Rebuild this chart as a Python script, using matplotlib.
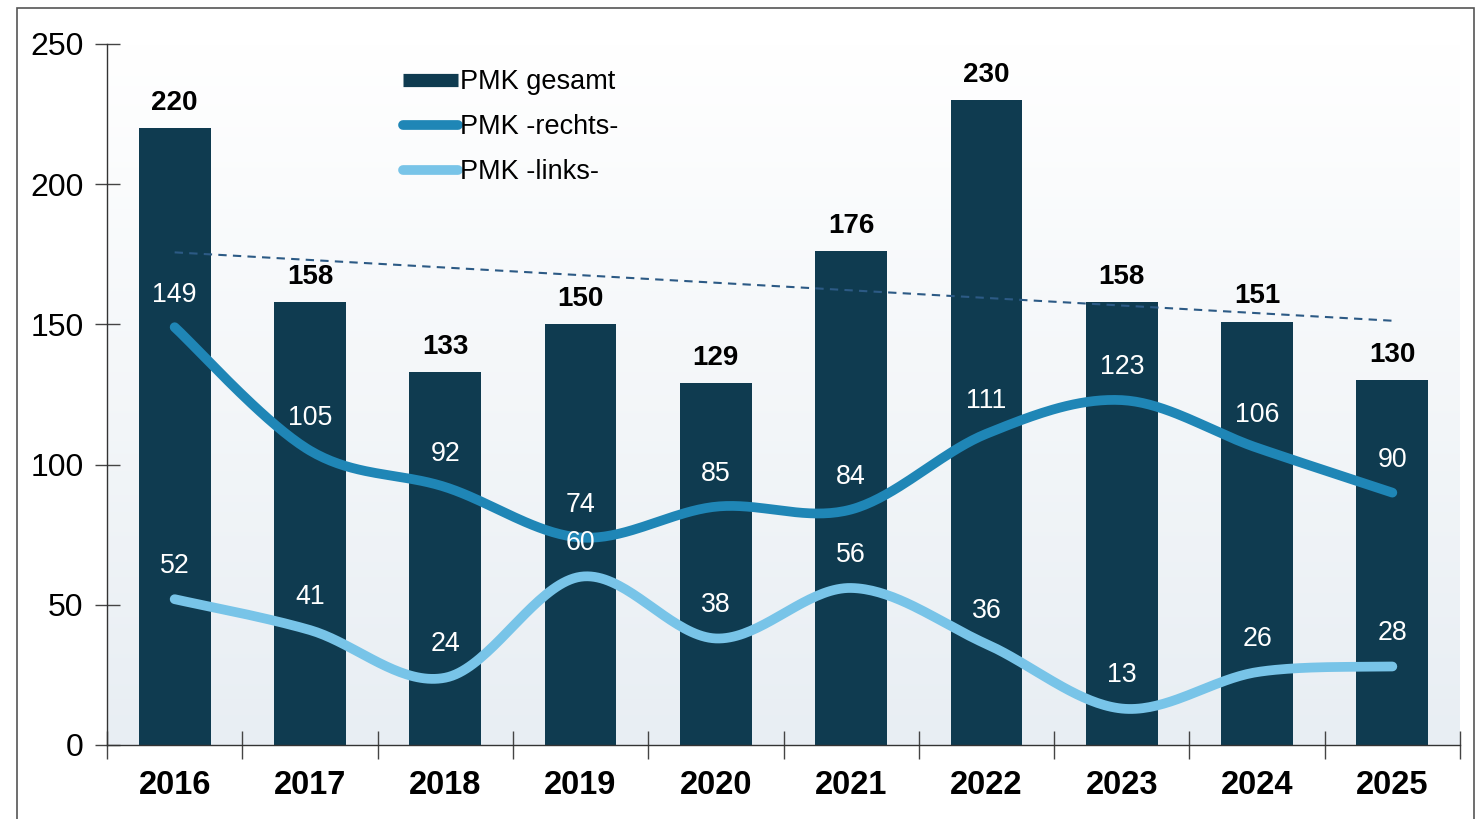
import matplotlib.pyplot as plt
import matplotlib.patches as mpatches
from matplotlib.lines import Line2D
import numpy as np

years = ['2016', '2017', '2018', '2019', '2020', '2021', '2022', '2023', '2024', '2025']
gesamt = [220, 158, 133, 150, 129, 176, 230, 158, 151, 130]
rechts = [149, 105, 92, 74, 85, 84, 111, 123, 106, 90]
links = [52, 41, 24, 60, 38, 56, 36, 13, 26, 28]

c_bar = '#0f3b50'
c_rechts = '#1f86b6'
c_links = '#78c4e8'
c_trend = '#2c5a85'

plt.rcParams['font.family'] = ['Liberation Sans', 'DejaVu Sans']


def smooth(xs, ys, n=40):
    # bezier smoothing like the office charts do
    xs = np.asarray(xs, float)
    ys = np.asarray(ys, float)
    px = np.concatenate([[xs[0]], xs, [xs[-1]]])
    py = np.concatenate([[ys[0]], ys, [ys[-1]]])
    ox, oy = [], []
    t = np.linspace(0, 1, n)
    for i in range(1, len(px) - 2):
        p0 = np.array([px[i - 1], py[i - 1]])
        p1 = np.array([px[i], py[i]])
        p2 = np.array([px[i + 1], py[i + 1]])
        p3 = np.array([px[i + 2], py[i + 2]])
        c1 = p1 + (p2 - p0) / 6
        c2 = p2 - (p3 - p1) / 6
        b = ((1 - t) ** 3)[:, None] * p1 + (3 * (1 - t) ** 2 * t)[:, None] * c1 \
            + (3 * (1 - t) * t ** 2)[:, None] * c2 + (t ** 3)[:, None] * p2
        ox.extend(b[:, 0])
        oy.extend(b[:, 1])
    return np.array(ox), np.array(oy)


fig = plt.figure(figsize=(14.79, 8.19), dpi=100)
ax = fig.add_axes([107 / 1479, 74 / 819, (1460 - 107) / 1479, (745 - 44) / 819])

# frame round the chart
fig.patches.append(mpatches.Rectangle((17 / 1479, -0.05), (1474 - 17) / 1479, 1.05 - 8 / 819,
                                      transform=fig.transFigure, fill=False,
                                      edgecolor='#555555', linewidth=1.2))

x = np.arange(len(years))

# gradient background
grad = np.linspace(0, 1, 256)[:, None]
cols = np.array([1.0, 1.0, 1.0]) * (1 - grad[..., None]) + np.array([0.91, 0.933, 0.953]) * grad[..., None]
ax.imshow(cols, extent=[-0.5, 9.5, 0, 250], aspect='auto', zorder=0, origin='upper')

ax.bar(x, gesamt, width=0.53, color=c_bar, zorder=2)

# trend line
k, d = np.polyfit(x, gesamt, 1)
ax.plot([x[0], x[-1]], [k * x[0] + d, k * x[-1] + d], color=c_trend, linestyle=(0, (4, 3)),
        linewidth=1.5, zorder=3)

sx, sy = smooth(x, rechts)
ax.plot(sx, sy, color=c_rechts, linewidth=7, solid_capstyle='round', zorder=4)
sx, sy = smooth(x, links)
ax.plot(sx, sy, color=c_links, linewidth=7, solid_capstyle='round', zorder=4)

for i in range(len(years)):
    ax.annotate(str(gesamt[i]), (x[i], gesamt[i]), xytext=(0, 18.3), textcoords='offset points',
                ha='center', va='center', fontsize=20, fontweight='bold', color='black', zorder=5)
    ax.annotate(str(rechts[i]), (x[i], rechts[i]), xytext=(0, 23.5), textcoords='offset points',
                ha='center', va='center', fontsize=19.3, color='white', zorder=5)
    ax.annotate(str(links[i]), (x[i], links[i]), xytext=(0, 24), textcoords='offset points',
                ha='center', va='center', fontsize=19.3, color='white', zorder=5)

ax.set_xlim(-0.5, 9.5)
ax.set_ylim(0, 250)
ax.set_yticks([0, 50, 100, 150, 200, 250])
ax.set_xticks(np.arange(-0.5, 10, 1))
ax.set_xticklabels([])
ax.set_xticks(x, minor=True)
ax.set_xticklabels(years, minor=True, fontsize=23.5, fontweight='bold')
ax.tick_params(axis='x', which='minor', length=0, pad=18)
ax.tick_params(axis='x', which='major', direction='inout', length=20, width=1, color='#444444')
ax.tick_params(axis='y', direction='inout', length=18, width=1, color='#444444', labelsize=23, pad=8)
for s in ['top', 'right']:
    ax.spines[s].set_visible(False)
for s in ['left', 'bottom']:
    ax.spines[s].set_color('#333333')
    ax.spines[s].set_linewidth(1)

handles = [Line2D([], [], color=c_bar, linewidth=9.5, solid_capstyle='butt'),
           Line2D([], [], color=c_rechts, linewidth=7, solid_capstyle='round'),
           Line2D([], [], color=c_links, linewidth=7, solid_capstyle='round')]
leg = ax.legend(handles, ['PMK gesamt', 'PMK -rechts-', 'PMK -links-'], loc='upper left',
                bbox_to_anchor=(0.2047, 0.991), frameon=False, fontsize=19.5, handlelength=2.05,
                handletextpad=0.05, labelspacing=0.7, borderaxespad=0.3)

plt.savefig('out.png', dpi=100)
